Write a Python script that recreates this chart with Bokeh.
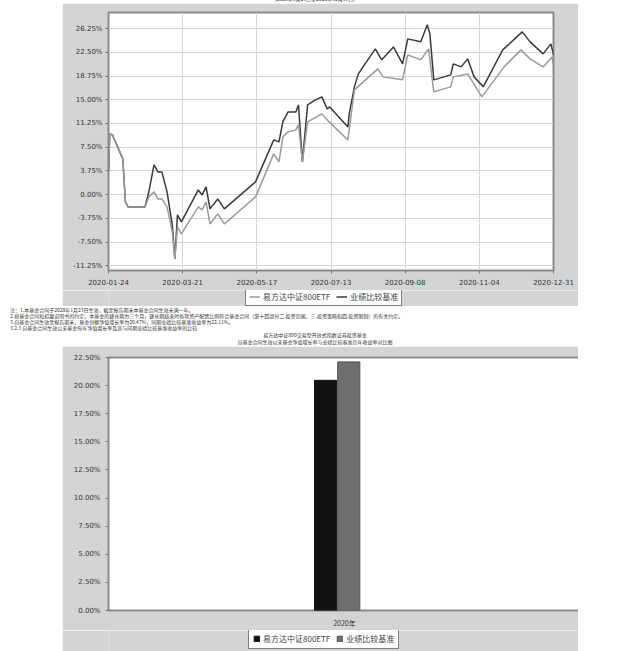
import pandas as pd
from bokeh.plotting import figure
from bokeh.models import (ColumnDataSource, Legend, LegendItem, FixedTicker,
                          DatetimeTickFormatter, Div, Range1d, FactorRange,
                          PrintfTickFormatter)
from bokeh.layouts import column
from bokeh.transform import dodge
from bokeh.embed import file_html
from bokeh.resources import INLINE

# ---------------- data ----------------
fund_name = "易方达中证800ETF"
bench_name = "业绩比较基准"

fund_dates = ["2020-01-24","2020-01-25","2020-01-27","2020-02-04","2020-02-06","2020-02-08","2020-02-21",
              "2020-02-24","2020-02-28","2020-03-02","2020-03-05","2020-03-09","2020-03-13","2020-03-15",
              "2020-03-17","2020-03-20","2020-04-02","2020-04-05","2020-04-08","2020-04-11","2020-04-17",
              "2020-04-22","2020-05-16","2020-05-30","2020-06-03","2020-06-06","2020-06-10","2020-06-16",
              "2020-06-18","2020-06-21","2020-06-25","2020-07-06","2020-07-10","2020-07-26","2020-07-31",
              "2020-08-18","2020-08-22","2020-09-06","2020-09-10","2020-09-20","2020-09-26","2020-09-30",
              "2020-10-13","2020-10-15","2020-10-26","2020-11-06","2020-11-23","2020-12-06","2020-12-13",
              "2020-12-23","2020-12-30","2020-12-31"]
fund_values = [3.59, 9.60, 9.45, 5.65, -1.15, -1.95, -1.95,
               -0.36, 0.43, -0.68, -0.68, -1.95, -5.90, -10.17,
               -5.11, -6.22, -1.95, -2.42, -1.15, -4.64, -3.05,
               -4.64, -0.36, 6.44, 5.17, 9.13, 9.92, 10.24,
               11.03, 5.17, 11.50, 12.77, 11.82, 8.65, 16.56,
               19.88, 18.62, 18.15, 22.10, 21.31, 23.05, 16.25,
               17.04, 18.62, 19.09, 15.46, 20.20, 22.89, 21.47,
               20.20, 21.78, 20.47]

bench_dates = ["2020-01-24","2020-01-25","2020-01-27","2020-02-04","2020-02-06","2020-02-08","2020-02-21",
               "2020-02-24","2020-02-28","2020-03-02","2020-03-05","2020-03-09","2020-03-13","2020-03-15",
               "2020-03-17","2020-03-20","2020-04-02","2020-04-05","2020-04-08","2020-04-11","2020-04-17",
               "2020-04-22","2020-05-16","2020-05-30","2020-06-03","2020-06-06","2020-06-10","2020-06-16",
               "2020-06-18","2020-06-21","2020-06-25","2020-07-01","2020-07-06","2020-07-10","2020-07-12",
               "2020-07-26","2020-07-27","2020-07-31","2020-08-03","2020-08-16","2020-08-21","2020-08-30",
               "2020-09-06","2020-09-10","2020-09-20","2020-09-25","2020-09-27","2020-09-30","2020-10-13",
               "2020-10-15","2020-10-21","2020-10-26","2020-10-31","2020-11-07","2020-11-22","2020-12-07",
               "2020-12-13","2020-12-23","2020-12-29","2020-12-31"]
bench_values = [3.59, 9.60, 9.45, 5.65, -1.15, -1.95, -1.95,
                0.43, 4.70, 3.59, 3.59, 0.43, -4.79, -10.17,
                -3.21, -4.32, 0.74, -0.05, 1.22, -2.26, -0.68,
                -2.26, 2.01, 8.65, 8.34, 11.50, 13.08, 13.08,
                14.19, 5.17, 14.19, 14.98, 15.46, 13.56, 13.87,
                10.71, 12.77, 17.04, 19.09, 23.05, 21.31, 23.36,
                20.68, 24.63, 24.16, 26.85, 25.42, 18.15, 18.94,
                20.68, 20.20, 21.47, 18.62, 17.04, 22.89, 25.74,
                24.16, 22.26, 23.84, 22.11]

x_tick_dates = ["2020-01-24", "2020-03-21", "2020-05-17", "2020-07-13",
                "2020-09-08", "2020-11-04", "2020-12-31"]
y_ticks_line = [-11.25, -7.50, -3.75, 0.00, 3.75, 7.50, 11.25, 15.00, 18.75, 22.50, 26.25]

years = ["2020年"]
fund_annual = [20.47]
bench_annual = [22.11]
y_ticks_bar = [0.0, 2.5, 5.0, 7.5, 10.0, 12.5, 15.0, 17.5, 20.0, 22.5]

top_title = "（2020年1月23日至2020年12月31日）"
notes = [
    "注：1.本基金合同于2020年1月23日生效，截至报告期末本基金合同生效未满一年。",
    "2.按基金合同和招募说明书的约定，本基金的建仓期为三个月，建仓期结束时各项资产配置比例符合基金合同（第十四部分二.投资范围、三.投资策略和四.投资限制）的有关约定。",
    "3.自基金合同生效至报告期末，基金份额净值增长率为20.47%，同期业绩比较基准收益率为22.11%。",
    "3.2.3 自基金合同生效以来基金每年净值增长率及其与同期业绩比较基准收益率的比较",
]
bar_titles = ["易方达中证800交易型开放式指数证券投资基金",
              "自基金合同生效以来基金净值增长率与业绩比较基准历年收益率对比图"]
bottom_note = "注：本基金合同于2020年1月23日生效，合同生效当年按实际存续期计算，不按整个自然年度进行折算。"

# ---------------- styling ----------------
CJK = "Noto Sans CJK SC"
PANEL = "#d4d4d4"
FUND_LINE = "#9a9a9a"
BENCH_LINE = "#3a3a3a"
FUND_BAR = "#111111"
BENCH_BAR = "#6e6e6e"
LEFT = 62


def style_axes(p):
    for ax in (p.xaxis, p.yaxis):
        ax.axis_line_color = None
        ax.major_tick_line_color = "#777777"
        ax.major_tick_in = 0
        ax.major_tick_out = 3
        ax.minor_tick_line_color = None
        ax.major_label_text_font_size = "7px"
        ax.major_label_text_color = "#333333"
        ax.major_label_text_font = "DejaVu Sans"


def legend_strip(height, x_range, y_range, x_axis_type="linear"):
    """A gray strip (continuation of the chart panel) that holds the boxed legend."""
    q = figure(frame_width=516, frame_height=height, x_range=x_range, y_range=y_range,
               x_axis_type=x_axis_type, output_backend="svg", toolbar_location=None,
               min_border=0, background_fill_color=PANEL, border_fill_color=PANEL,
               outline_line_color=None)
    q.axis.visible = False
    q.grid.visible = False
    q.margin = (0, 0, 0, LEFT)
    return q


# ---------------- line chart ----------------
fund_src = ColumnDataSource(dict(x=pd.to_datetime(fund_dates), y=fund_values))
bench_src = ColumnDataSource(dict(x=pd.to_datetime(bench_dates), y=bench_values))
tick_ts = pd.to_datetime(x_tick_dates)
tick_ms = [int(t.value // 10**6) for t in tick_ts]

p1 = figure(frame_width=445, frame_height=258, x_axis_type="datetime", output_backend="svg",
            toolbar_location=None, x_range=Range1d(tick_ts[0], tick_ts[-1]),
            y_range=Range1d(-12.0, 28.8),
            min_border_left=46, min_border_right=25, min_border_top=9, min_border_bottom=20,
            background_fill_color="white", border_fill_color=PANEL,
            outline_line_color="#8a8a8a", outline_line_width=2)
p1.margin = (0, 0, 0, LEFT)
p1.line("x", "y", source=bench_src, line_color=BENCH_LINE, line_width=1.5)
p1.line("x", "y", source=fund_src, line_color=FUND_LINE, line_width=1.5)

p1.xaxis.ticker = FixedTicker(ticks=tick_ms)
fmt = "%Y-%m-%d"
p1.xaxis.formatter = DatetimeTickFormatter(days=fmt, months=fmt, years=fmt, hours=fmt,
                                           hourmin=fmt, minutes=fmt, minsec=fmt,
                                           seconds=fmt, milliseconds=fmt, microseconds=fmt)
p1.yaxis.ticker = FixedTicker(ticks=y_ticks_line)
p1.yaxis.formatter = PrintfTickFormatter(format="%.2f%%")
style_axes(p1)
p1.xaxis.major_label_standoff = 5
p1.yaxis.major_label_standoff = 3
p1.grid.grid_line_color = "#d6d6d6"

# legend strip for the line chart (lines lie outside its y range, only the legend shows)
l1 = legend_strip(16, Range1d(tick_ts[0], tick_ts[-1]), Range1d(100, 200), "datetime")
lf = l1.line("x", "y", source=fund_src, line_color=FUND_LINE, line_width=1.5)
lb = l1.line("x", "y", source=bench_src, line_color=BENCH_LINE, line_width=1.5)
leg1 = Legend(items=[LegendItem(label=fund_name, renderers=[lf]),
                     LegendItem(label=bench_name, renderers=[lb])],
              orientation="horizontal", location=(183, 0),
              border_line_color="black", border_line_width=1,
              background_fill_color="white", background_fill_alpha=1,
              label_text_font=CJK, label_text_font_size="8px", label_height=9,
              glyph_width=11, glyph_height=9, padding=3, spacing=6, margin=0,
              label_standoff=3)
l1.add_layout(leg1)

# ---------------- bar chart ----------------
bar_src = ColumnDataSource(dict(year=years, fund=fund_annual, bench=bench_annual))
p2 = figure(frame_width=472, frame_height=253, x_range=FactorRange(*years), y_range=Range1d(0, 22.5),
            output_backend="svg", toolbar_location=None,
            min_border_left=41, min_border_right=3, min_border_top=11, min_border_bottom=17,
            background_fill_color="white", border_fill_color=PANEL,
            outline_line_color="#8a8a8a", outline_line_width=2)
p2.margin = (0, 0, 0, LEFT)
p2.vbar(x=dodge("year", -0.040, range=p2.x_range), top="fund", width=0.047,
        source=bar_src, fill_color=FUND_BAR, line_color=FUND_BAR)
p2.vbar(x=dodge("year", 0.009, range=p2.x_range), top="bench", width=0.047,
        source=bar_src, fill_color=BENCH_BAR, line_color="#555555")
p2.yaxis.ticker = FixedTicker(ticks=y_ticks_bar)
p2.yaxis.formatter = PrintfTickFormatter(format="%.2f%%")
style_axes(p2)
p2.xaxis.major_label_text_font = CJK
p2.xaxis.major_tick_line_color = None
p2.xaxis.major_label_standoff = 4
p2.grid.grid_line_color = None

l2 = legend_strip(21, FactorRange(*years), Range1d(-20, -10))
b1 = l2.vbar(x="year", top="fund", width=0.047, source=bar_src,
             fill_color=FUND_BAR, line_color=FUND_BAR)
b2 = l2.vbar(x="year", top="bench", width=0.047, source=bar_src,
             fill_color=BENCH_BAR, line_color="#555555")
leg2 = Legend(items=[LegendItem(label=fund_name, renderers=[b1]),
                     LegendItem(label=bench_name, renderers=[b2])],
              orientation="horizontal", location=(186, 2),
              border_line_color="black", border_line_width=1,
              background_fill_color="white", background_fill_alpha=1,
              label_text_font=CJK, label_text_font_size="8px", label_height=9,
              glyph_width=7, glyph_height=7, padding=4, spacing=6, margin=0,
              label_standoff=3)
l2.add_layout(leg2)

# ---------------- text blocks ----------------
base = {"font-family": CJK, "color": "#333333", "white-space": "nowrap", "overflow": "hidden"}

title_div = Div(text=top_title, width=630, height=8, margin=0,
                styles=dict(base, **{"font-size": "5px", "line-height": "5px", "text-align": "center",
                                     "padding-top": "1px"}))
notes_div = Div(text="<br>".join(notes), width=630, height=25, margin=0,
                styles=dict(base, **{"font-size": "5px", "line-height": "6px", "padding-left": "10px",
                                     "padding-top": "1px"}))
titles_div = Div(text="<br>".join(bar_titles), width=630, height=15, margin=0,
                 styles=dict(base, **{"font-size": "5px", "line-height": "7px", "text-align": "center",
                                      "padding-top": "0px"}))
bottom_div = Div(text=bottom_note, width=630, height=8, margin=0,
                 styles=dict(base, **{"font-size": "5px", "line-height": "6px", "padding-left": "10px"}))

root = column(title_div, p1, l1, notes_div, titles_div, p2, l2, bottom_div,
              margin=(-5, 0, 0, 0), spacing=0)

open("out.html", "w").write(file_html(root, INLINE))
